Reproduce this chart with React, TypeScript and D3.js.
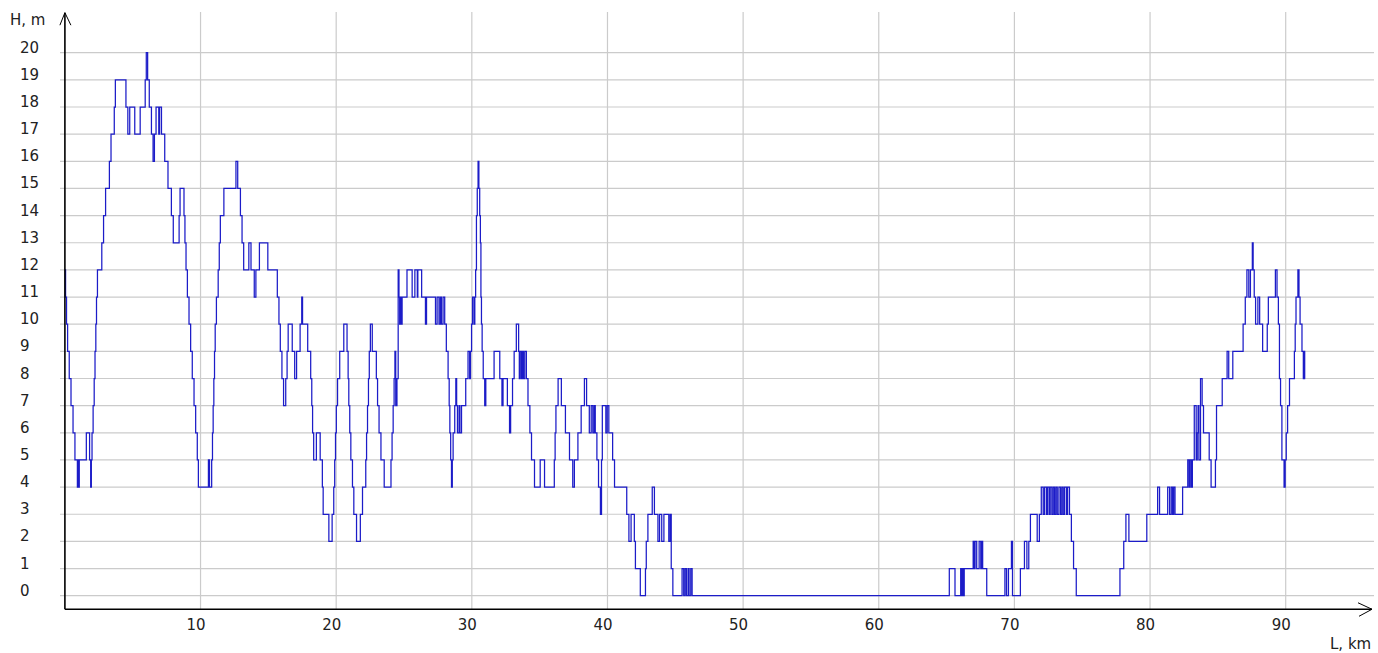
import React from "react";
import * as d3 from "d3";

// Elevation profile H (m) against distance L (km); each pair holds until the next one.
const profileA: [number, number][] = [
  [0.0, 12], [0.05, 11], [0.12, 10], [0.2, 9], [0.32, 8], [0.45, 7], [0.6, 6], [0.74, 5],
  [0.92, 4], [0.95, 5], [1.02, 4], [1.06, 5], [1.58, 6], [1.82, 5], [1.9, 4], [1.95, 5],
  [2.0, 6], [2.08, 7], [2.16, 8], [2.22, 9], [2.28, 10], [2.33, 11], [2.4, 12], [2.72, 13],
  [2.85, 14], [3.0, 15], [3.28, 16], [3.4, 17], [3.64, 18], [3.72, 19], [4.5, 18], [4.64, 17],
  [4.78, 18], [5.15, 17], [5.55, 18], [5.92, 19], [6.0, 20], [6.1, 19], [6.22, 18], [6.38, 17],
  [6.5, 16], [6.6, 17], [6.72, 18], [6.92, 17], [6.98, 18], [7.12, 17], [7.36, 16], [7.6, 15],
  [7.85, 14], [7.99, 13], [8.42, 14], [8.49, 15], [8.78, 14], [8.85, 13], [8.93, 12], [9.03, 11],
  [9.15, 10], [9.27, 9], [9.39, 8], [9.52, 7], [9.64, 6], [9.76, 5], [9.84, 4], [10.58, 5],
  [10.66, 4], [10.82, 5], [10.88, 6], [10.93, 7], [10.98, 8], [11.03, 9], [11.08, 10], [11.17, 11],
  [11.3, 12], [11.38, 13], [11.46, 14], [11.72, 15], [12.61, 16], [12.74, 15], [12.94, 14],
  [13.06, 13], [13.18, 12], [13.56, 13], [13.72, 12], [13.96, 11], [14.08, 12], [14.34, 13],
  [14.96, 12],
];

const profileB: [number, number][] = [
  [15.66, 11], [15.78, 10], [15.88, 9], [16.0, 8], [16.12, 7], [16.28, 8], [16.38, 9], [16.46, 10],
  [16.76, 9], [16.94, 8], [17.08, 9], [17.34, 10], [17.46, 11], [17.52, 10], [17.9, 9], [18.12, 8],
  [18.2, 7], [18.26, 6], [18.34, 5], [18.54, 6], [18.82, 5], [18.98, 4], [19.04, 3], [19.46, 2],
  [19.7, 3], [19.82, 4], [19.89, 5], [19.95, 6], [20.01, 7], [20.1, 8], [20.26, 9], [20.56, 10],
  [20.8, 9], [20.88, 8], [20.93, 7], [21.0, 6], [21.08, 5], [21.2, 4], [21.3, 3], [21.5, 2],
  [21.78, 3], [21.94, 4], [22.18, 5], [22.24, 6], [22.31, 7], [22.38, 8], [22.44, 9], [22.52, 10],
  [22.66, 9], [22.96, 8], [23.05, 7], [23.16, 6], [23.3, 5], [23.54, 4], [24.04, 5], [24.12, 6],
  [24.2, 7], [24.27, 8], [24.33, 9], [24.39, 7], [24.48, 8], [24.57, 12], [24.63, 11], [24.68, 10],
  [24.72, 11], [24.8, 10], [24.86, 11], [25.22, 12], [25.6, 11], [25.8, 12], [25.98, 11], [26.02, 12],
  [26.3, 11], [26.58, 10], [26.66, 11], [27.32, 10], [27.44, 11], [27.58, 10], [27.68, 11],
  [27.76, 10], [27.88, 11], [28.0, 10], [28.12, 9], [28.25, 8], [28.33, 7], [28.38, 6], [28.44, 5],
  [28.5, 4], [28.56, 5], [28.62, 6], [28.74, 7], [28.82, 8], [28.88, 7], [28.94, 6], [29.06, 7],
  [29.12, 6], [29.24, 7], [29.55, 8], [29.72, 9], [29.84, 8], [29.9, 9], [29.98, 10], [30.05, 11],
  [30.16, 10], [30.22, 11], [30.28, 12], [30.34, 14], [30.4, 15], [30.46, 16], [30.52, 15],
  [30.58, 14], [30.63, 13], [30.67, 11], [30.71, 10], [30.76, 9], [30.84, 8], [30.95, 7],
];

const profileC: [number, number][] = [
  [31.03, 8], [31.64, 9], [32.06, 8], [32.22, 7], [32.3, 8], [32.62, 7], [32.78, 6], [32.86, 7],
  [33.0, 8], [33.12, 9], [33.28, 10], [33.45, 9], [33.5, 8], [33.56, 9], [33.66, 8], [33.72, 9],
  [33.8, 8], [33.9, 9], [34.02, 8], [34.14, 7], [34.28, 6], [34.4, 5], [34.62, 4], [35.04, 5],
  [35.36, 4], [36.08, 5], [36.14, 6], [36.2, 7], [36.36, 8], [36.6, 7], [36.9, 6], [37.2, 5],
  [37.44, 4], [37.56, 5], [37.82, 6], [38.06, 7], [38.3, 8], [38.46, 7], [38.66, 6], [38.8, 7],
  [38.92, 6], [39.02, 7], [39.1, 6], [39.22, 5], [39.34, 4], [39.48, 3], [39.56, 5], [39.62, 7],
  [39.88, 6], [39.98, 7], [40.1, 6], [40.38, 5], [40.52, 4], [41.42, 3], [41.58, 2], [41.74, 3],
  [41.98, 2], [42.06, 1], [42.42, 0], [42.8, 1], [42.86, 2], [42.98, 3], [43.3, 4], [43.46, 3],
  [43.72, 2], [43.84, 3], [44.0, 2], [44.16, 3], [44.52, 2], [44.62, 3], [44.7, 1], [44.82, 0],
  [45.5, 1], [45.62, 0], [45.72, 1], [45.82, 0], [45.94, 1], [46.02, 0], [46.14, 1], [46.24, 0],
];

const profileD: [number, number][] = [
  [65.2, 1], [65.62, 0], [66.04, 1], [66.1, 0], [66.16, 1], [66.22, 0], [66.3, 1], [66.96, 2],
  [67.04, 1], [67.1, 2], [67.22, 1], [67.4, 2], [67.52, 1], [67.6, 2], [67.66, 1], [67.96, 0],
  [69.3, 1], [69.42, 0], [69.56, 1], [69.78, 2], [69.86, 0], [70.44, 1], [70.74, 2], [70.92, 1],
  [71.06, 2], [71.18, 3], [71.68, 2], [71.84, 3], [71.98, 4], [72.12, 3], [72.22, 4], [72.36, 3],
  [72.44, 4], [72.56, 3], [72.64, 4], [72.76, 3], [72.86, 4], [72.96, 3], [73.06, 4], [73.16, 3],
  [73.28, 4], [73.4, 3], [73.5, 4], [73.6, 3], [73.7, 4], [73.84, 3], [73.92, 4], [74.06, 3],
  [74.2, 2], [74.36, 1], [74.56, 0], [77.78, 1], [78.06, 2], [78.22, 3], [78.44, 2], [79.76, 3],
  [80.56, 4], [80.7, 3], [81.3, 4], [81.44, 3], [81.56, 4], [81.66, 3], [81.74, 4], [81.84, 3],
  [82.4, 4], [82.78, 5], [82.88, 4], [82.94, 5], [83.04, 4], [83.12, 5], [83.26, 7], [83.4, 5],
  [83.48, 6], [83.54, 7], [83.6, 5], [83.72, 8], [83.84, 7], [83.94, 6], [84.36, 5], [84.5, 4],
  [84.82, 5], [84.9, 7], [85.32, 8], [85.68, 9], [85.8, 8], [86.1, 9], [86.86, 10], [87.02, 11],
  [87.14, 12], [87.28, 11], [87.4, 12], [87.54, 13], [87.6, 12], [87.68, 11], [87.78, 10],
  [87.95, 11], [88.08, 10], [88.3, 9], [88.64, 10], [88.72, 11], [89.24, 12], [89.36, 11],
  [89.46, 10], [89.54, 8], [89.62, 7], [89.72, 5], [89.88, 4], [89.96, 5], [90.04, 6], [90.14, 7],
  [90.28, 8], [90.64, 9], [90.7, 10], [90.76, 11], [90.9, 12], [90.98, 11], [91.06, 10], [91.2, 9],
  [91.3, 8], [91.36, 9], [91.4, 8], [91.44, 8],
];

const xTicks = [10, 20, 30, 40, 50, 60, 70, 80, 90];
const yTicks = d3.range(0, 21);
const xTitle = "L, km";
const yTitle = "H, m";

const W = 1378;
const H = 653;

export default function App() {
  const x = d3.scaleLinear().domain([0, 90]).range([64.9, 1285.7]);
  const y = d3.scaleLinear().domain([0, 20]).range([595.7, 52.7]);
  const axisY = y(-0.5);
  const axisX = x(0);
  const topY = 12.7;
  const rightX = 1372;

  const data = [...profileA, ...profileB, ...profileC, ...profileD];
  const line = d3
    .line<[number, number]>()
    .x((d) => x(d[0]))
    .y((d) => y(d[1]))
    .curve(d3.curveStepAfter);

  const font = "'DejaVu Sans', Verdana, sans-serif";

  return (
    <svg
      width={W}
      height={H}
      style={{ position: "absolute", left: 0, top: 0, display: "block", background: "#fff" }}
    >
      <rect x={0} y={0} width={W} height={H} fill="#fff" />
      {/* horizontal grid */}
      {yTicks.map((t) => (
        <line key={"h" + t} x1={60} x2={1374} y1={y(t)} y2={y(t)} stroke="#cbcbcb" strokeWidth={1.2} />
      ))}
      {/* vertical grid */}
      {xTicks.map((t) => (
        <line key={"v" + t} x1={x(t)} x2={x(t)} y1={12} y2={axisY} stroke="#cbcbcb" strokeWidth={1.2} />
      ))}
      {/* profile */}
      <path d={line(data) || ""} fill="none" stroke="#1c1cc8" strokeWidth={1.25} />
      {/* axes */}
      <line x1={axisX} x2={axisX} y1={axisY} y2={topY} stroke="#000" strokeWidth={1.6} />
      <polyline
        points={`${axisX - 5},${topY + 12.5} ${axisX},${topY} ${axisX + 6},${topY + 12.5}`}
        fill="none"
        stroke="#000"
        strokeWidth={1}
      />
      <line x1={axisX} x2={rightX} y1={axisY} y2={axisY} stroke="#000" strokeWidth={1.6} />
      <polyline
        points={`${rightX - 14},${axisY - 6.5} ${rightX},${axisY} ${rightX - 13},${axisY + 7}`}
        fill="none"
        stroke="#000"
        strokeWidth={1}
      />
      {/* y tick labels */}
      {yTicks.map((t) => (
        <text key={"yl" + t} x={20} y={y(t)} fontFamily={font} fontSize={15} fill="#222">
          {t}
        </text>
      ))}
      {/* x tick labels */}
      {xTicks.map((t) => (
        <text
          key={"xl" + t}
          x={x(t) - 4.5}
          y={630}
          textAnchor="middle"
          fontFamily={font}
          fontSize={15}
          fill="#222"
        >
          {t}
        </text>
      ))}
      <text x={10} y={25} fontFamily={font} fontSize={15} fill="#222">
        {yTitle}
      </text>
      <text x={1330} y={649} fontFamily={font} fontSize={15} fill="#222">
        {xTitle}
      </text>
    </svg>
  );
}
